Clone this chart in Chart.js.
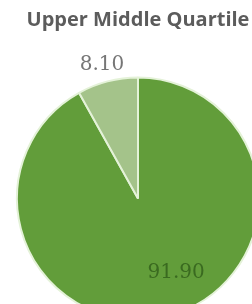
<!DOCTYPE html>
<html>
<head>
<meta charset="utf-8">
<script src="https://cdn.jsdelivr.net/npm/chart.js@4/dist/chart.umd.min.js"></script>
<style>
    html, body { margin: 0; padding: 0; background: #ffffff; overflow: hidden; }
    #wrap { position: absolute; left: 0; top: 0; width: 276px; height: 330px; }
</style>
</head>
<body>
<div id="wrap"><canvas id="pie" width="276" height="330"></canvas></div>
<script>
// values
const categories = ['Upper Middle Quartile A', 'Upper Middle Quartile B'];
const shares = [91.90, 8.10];
const sliceColors = ['#629d3a', '#a4c38a'];
const labelColors = ['#3a6a20', '#767676'];
const chartTitle = 'Upper Middle Quartile';

// draws the value labels from each arc's own geometry
const valueLabels = {
    id: 'valueLabels',
    afterDatasetsDraw(chart) {
        const ctx = chart.ctx;
        const meta = chart.getDatasetMeta(0);
        // radius factor and small nudge per slice (inside / outside)
        const place = [{ f: 0.66, dx: 18, dy: -3 }, { f: 1.15, dx: -1, dy: 1 }];
        ctx.save();
        ctx.font = '20px "DejaVu Serif"';
        ctx.textAlign = 'center';
        ctx.textBaseline = 'middle';
        meta.data.forEach((arc, i) => {
            const p = arc.getProps(['x', 'y', 'startAngle', 'endAngle', 'outerRadius'], true);
            const mid = (p.startAngle + p.endAngle) / 2;
            const r = p.outerRadius * place[i].f;
            const x = p.x + Math.cos(mid) * r + place[i].dx;
            const y = p.y + Math.sin(mid) * r + place[i].dy;
            ctx.fillStyle = labelColors[i];
            ctx.fillText(shares[i].toFixed(2), x, y);
        });
        ctx.restore();
    }
};

new Chart(document.getElementById('pie'), {
    type: 'pie',
    data: {
        labels: categories,
        datasets: [{
            data: shares,
            backgroundColor: sliceColors,
            borderColor: '#e4f2d8',
            borderWidth: 2,
            hoverOffset: 0
        }]
    },
    options: {
        responsive: false,
        animation: false,
        layout: { padding: { left: 16, right: 16, top: 0, bottom: 8 } },
        plugins: {
            legend: { display: false },
            tooltip: { enabled: false },
            title: {
                display: true,
                text: chartTitle,
                color: '#5c5c5c',
                font: { family: 'Open Sans', size: 20, weight: 'bold' },
                padding: { top: 8, bottom: 43 }
            }
        }
    },
    plugins: [valueLabels]
});
</script>
</body>
</html>
